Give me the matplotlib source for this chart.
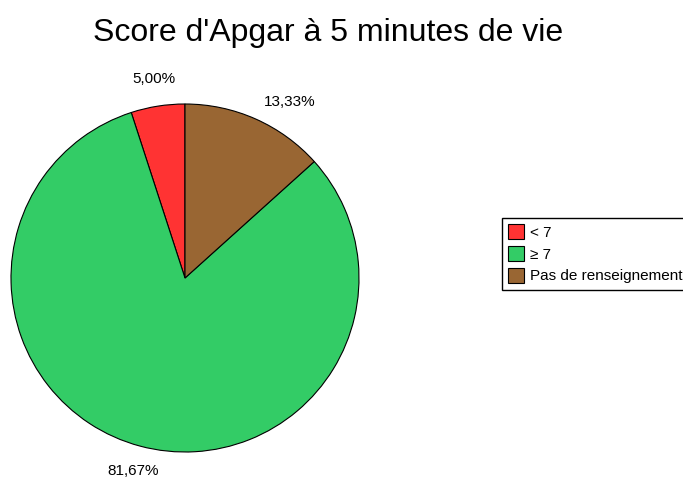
import matplotlib
matplotlib.use('Agg')
import matplotlib.pyplot as plt
from matplotlib.patches import Patch
import numpy as np

plt.rcParams['font.family'] = ['Liberation Sans', 'DejaVu Sans']

CATEGORIES = ["< 7", "≥ 7", "Pas de renseignement"]
VALUES     = [5.00, 81.67, 13.33]
PCT_LABELS = ["5,00%", "81,67%", "13,33%"]
COLORS     = ['#ff3333', '#33cc66', '#996633']

# label placement per slice (distance in radii, horizontal alignment)
LABEL_DIST = [1.16, 1.15, 1.11]
LABEL_HA   = ['center', 'center', 'left']

W, H = 683, 480
fig = plt.figure(figsize=(W / 100, H / 100), dpi=100)

# pie axes: centre ~(185, 278) px, radius ~174 px
cx, cy, r = 185, 278, 174
ax = fig.add_axes([(cx - r) / W, 1 - (cy + r) / H, 2 * r / W, 2 * r / H])
wedges, _ = ax.pie(VALUES, colors=COLORS, startangle=90, counterclock=True,
                   wedgeprops=dict(edgecolor='black', linewidth=0.8))
ax.set_xlim(-1, 1)
ax.set_ylim(-1, 1)
ax.set_aspect('equal')

# percentage labels outside the slices
for w, lab, d, ha in zip(wedges, PCT_LABELS, LABEL_DIST, LABEL_HA):
    ang = np.deg2rad((w.theta1 + w.theta2) / 2)
    ax.text(d * np.cos(ang), d * np.sin(ang), lab,
            ha=ha, va='center', fontsize=11, clip_on=False)

fig.text(328 / W, 1 - 41 / H, "Score d'Apgar à 5 minutes de vie",
         ha='center', va='baseline', fontsize=23)

handles = [Patch(facecolor=c, edgecolor='black', linewidth=0.8) for c in COLORS]
fig.legend(handles, CATEGORIES, loc='upper left',
           bbox_to_anchor=(502 / W, 1 - 218 / H), fontsize=11,
           fancybox=False, edgecolor='black', framealpha=1,
           handlelength=1.05, handleheight=1.12, handletextpad=0.33,
           borderpad=0.42, labelspacing=0.4, borderaxespad=0)

fig.savefig("out.png", dpi=100)
